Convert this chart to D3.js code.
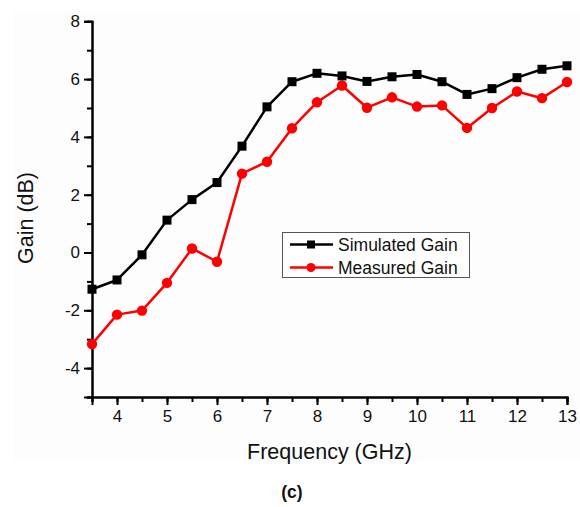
<!DOCTYPE html>
<html>
<head>
<meta charset="utf-8">
<script src="https://cdn.jsdelivr.net/npm/d3@7"></script>
<style>
  html, body { margin: 0; padding: 0; background: #fff; }
  svg text { font-family: Arial, "Liberation Sans", sans-serif; fill: #111; }
</style>
</head>
<body>
<svg id="chart" width="580" height="507"></svg>
<script>
// Gain versus frequency, 3.5–13 GHz in 0.5 GHz steps
const frequency = [3.5, 4, 4.5, 5, 5.5, 6, 6.5, 7, 7.5, 8, 8.5, 9, 9.5, 10, 10.5, 11, 11.5, 12, 12.5, 13];
const simulatedGain = [-1.27, -0.95, -0.08, 1.12, 1.83, 2.42, 3.68, 5.04, 5.91, 6.20, 6.11, 5.92, 6.08, 6.16, 5.91, 5.47, 5.67, 6.05, 6.34, 6.46];
const measuredGain  = [-3.17, -2.15, -2.01, -1.05, 0.14, -0.32, 2.73, 3.14, 4.30, 5.20, 5.78, 5.01, 5.37, 5.05, 5.09, 4.31, 5.00, 5.57, 5.34, 5.90];

const xTicks = [4, 5, 6, 7, 8, 9, 10, 11, 12, 13];
const yTicks = [-4, -2, 0, 2, 4, 6, 8];
const seriesNames = ["Simulated Gain", "Measured Gain"];

const svg = d3.select("#chart");

// faint panel behind the figure
svg.append("rect").attr("x", 14).attr("y", 10).attr("width", 566).attr("height", 451)
  .attr("fill", "#fdfdfd");

const plotLeft = 92, plotRight = 567, plotBottom = 397;
const x = d3.scaleLinear().domain([3.5, 13]).range([plotLeft, plotRight]);
const y = d3.scaleLinear().domain([-5, 8]).range([plotBottom, plotBottom - 13 * 28.9]);

// minor ticks (half steps)
const xMinor = d3.range(3.5, 13.01, 0.5);
const yMinor = d3.range(-5, 8.01, 1);
const plainNum = d => String(d);

const gx = svg.append("g").attr("transform", `translate(0,${plotBottom})`);
gx.call(d3.axisBottom(x).tickValues(xMinor).tickSize(5).tickFormat(""));
gx.append("g").call(d3.axisBottom(x).tickValues(xTicks).tickSize(8).tickPadding(5).tickFormat(plainNum));
gx.selectAll("path.domain").attr("stroke", "#000").attr("stroke-width", 2);
gx.selectAll("line").attr("stroke", "#000").attr("stroke-width", 2);
gx.selectAll("text").attr("font-size", 17).attr("fill", "#111");

const gy = svg.append("g").attr("transform", `translate(${plotLeft},0)`);
gy.call(d3.axisLeft(y).tickValues(yMinor).tickSize(5).tickFormat(""));
gy.append("g").call(d3.axisLeft(y).tickValues(yTicks).tickSize(8).tickPadding(4).tickFormat(plainNum));
gy.selectAll("path.domain").attr("stroke", "#000").attr("stroke-width", 2);
gy.selectAll("line").attr("stroke", "#000").attr("stroke-width", 2);
gy.selectAll("text").attr("font-size", 17).attr("fill", "#111");

// axis titles
svg.append("text").attr("x", (plotLeft + plotRight) / 2).attr("y", 459)
  .attr("text-anchor", "middle").attr("font-size", 21.5).text("Frequency (GHz)");
svg.append("text").attr("transform", "translate(33,218) rotate(-90)")
  .attr("text-anchor", "middle").attr("font-size", 21.5).text("Gain (dB)");
svg.append("text").attr("x", 292).attr("y", 498)
  .attr("text-anchor", "middle").attr("font-size", 17.5).attr("font-weight", "bold").text("(c)");

const line = d3.line().x(d => x(d[0])).y(d => y(d[1]));
const simPts = frequency.map((f, i) => [f, simulatedGain[i]]);
const meaPts = frequency.map((f, i) => [f, measuredGain[i]]);

// measured series
svg.append("path").datum(meaPts).attr("d", line)
  .attr("fill", "none").attr("stroke", "#ff0000").attr("stroke-width", 2.5).attr("stroke-linejoin", "round");
svg.append("g").selectAll("circle").data(meaPts).join("circle")
  .attr("cx", d => x(d[0])).attr("cy", d => y(d[1])).attr("r", 5.2).attr("fill", "#ff0000");

// simulated series
svg.append("path").datum(simPts).attr("d", line)
  .attr("fill", "none").attr("stroke", "#000").attr("stroke-width", 2.5).attr("stroke-linejoin", "round");
svg.append("g").selectAll("rect").data(simPts).join("rect")
  .attr("x", d => x(d[0]) - 4.5).attr("y", d => y(d[1]) - 4.5)
  .attr("width", 9).attr("height", 9).attr("fill", "#000");

// legend
const lg = svg.append("g");
lg.append("rect").attr("x", 282.5).attr("y", 232.5).attr("width", 187).attr("height", 45)
  .attr("fill", "#fff").attr("stroke", "#555").attr("stroke-width", 1);
const rows = [
  { name: seriesNames[0], color: "#000", shape: "square", yy: 244.5 },
  { name: seriesNames[1], color: "#ff0000", shape: "circle", yy: 267.5 }
];
rows.forEach(r => {
  lg.append("line").attr("x1", 290).attr("x2", 333).attr("y1", r.yy).attr("y2", r.yy)
    .attr("stroke", r.color).attr("stroke-width", 2.5);
  if (r.shape === "square") {
    lg.append("rect").attr("x", 311 - 4).attr("y", r.yy - 4).attr("width", 8).attr("height", 8).attr("fill", r.color);
  } else {
    lg.append("circle").attr("cx", 311).attr("cy", r.yy).attr("r", 4.5).attr("fill", r.color);
  }
  lg.append("text").attr("x", 338).attr("y", r.yy + 6.2).attr("font-size", 17.5).text(r.name);
});
</script>
</body>
</html>
